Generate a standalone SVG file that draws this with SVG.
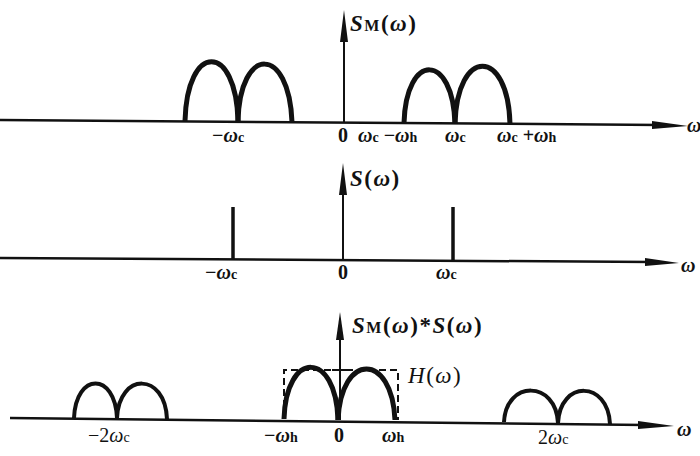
<svg xmlns="http://www.w3.org/2000/svg" width="700" height="456" viewBox="0 0 700 456">
<style>
.ax{stroke:#111;stroke-width:2.5;fill:none}
.va{stroke:#111;stroke-width:2;fill:none}
.hump{stroke:#111;stroke-width:5;fill:none;stroke-linecap:butt}
.hump2{stroke:#111;stroke-width:4;fill:none}
.imp{stroke:#111;stroke-width:3.5}
.ah{fill:#111}
.dash{stroke:#111;stroke-width:2;fill:none;stroke-dasharray:7,4}
text{font-family:"Liberation Serif","DejaVu Serif",serif;font-weight:bold;fill:#111;font-size:20px}
.it{font-style:italic}
.sm{font-size:14px;font-style:normal}
.nb{font-weight:normal}
.big{font-size:23px;letter-spacing:1.5px}
.big .sm{font-size:16px}
</style>
<rect width="700" height="456" fill="#fff"/>
<!-- Panel 1 -->
<g id="panel1">
  <g id="axes1">
    <line class="ax" x1="0" y1="120" x2="660" y2="125"/>
    <polygon class="ah" points="652,121 688,126 652,129"/>
    <line class="va" x1="344" y1="122" x2="344" y2="30"/>
    <polygon class="ah" points="340,42 344,10 348,42"/>
  </g>
  <g id="humps1">
    <path class="hump" d="M185,121 C187,42 236,42 238,121"/>
    <path class="hump" d="M238,121 C240,45 289,45 292,122"/>
    <path class="hump" d="M404,123 C406,52 453,52 455,124"/>
    <path class="hump" d="M455,124 C457,47 508,47 510,124"/>
  </g>
  <g id="labels1">
    <text x="350" y="31" class="big"><tspan class="it">S</tspan><tspan class="sm">M</tspan>(<tspan class="it">ω</tspan>)</text>
    <text x="212" y="142">−<tspan class="it">ω</tspan><tspan class="sm">c</tspan></text>
    <text x="338" y="142">0</text>
    <text x="358" y="142"><tspan class="it">ω</tspan><tspan class="sm">c</tspan> −<tspan class="it">ω</tspan><tspan class="sm">h</tspan></text>
    <text x="445" y="142"><tspan class="it">ω</tspan><tspan class="sm">c</tspan></text>
    <text x="497" y="142"><tspan class="it">ω</tspan><tspan class="sm">c</tspan> +<tspan class="it">ω</tspan><tspan class="sm">h</tspan></text>
    <text x="687" y="132" class="it">ω</text>
  </g>
</g>
<!-- Panel 2 -->
<g id="panel2">
  <g id="axes2">
    <line class="ax" x1="0" y1="258" x2="652" y2="262"/>
    <polygon class="ah" points="645,258 679,263 645,266"/>
    <line class="va" x1="343" y1="259" x2="343" y2="185"/>
    <polygon class="ah" points="339,195 343,163 347,195"/>
  </g>
  <g id="impulses">
    <line class="imp" x1="233" y1="207" x2="233" y2="259"/>
    <line class="imp" x1="453" y1="207" x2="453" y2="261"/>
  </g>
  <g id="labels2">
    <text x="350" y="186" class="big"><tspan class="it">S</tspan>(<tspan class="it">ω</tspan>)</text>
    <text x="205" y="279">−<tspan class="it">ω</tspan><tspan class="sm">c</tspan></text>
    <text x="338" y="279">0</text>
    <text x="436" y="279"><tspan class="it">ω</tspan><tspan class="sm">c</tspan></text>
    <text x="681" y="272" class="it">ω</text>
  </g>
</g>
<!-- Panel 3 -->
<g id="panel3">
  <g id="axes3">
    <line class="ax" x1="10" y1="418" x2="645" y2="425"/>
    <polygon class="ah" points="638,421 674,426 638,429"/>
    <line class="va" x1="340" y1="420" x2="340" y2="330"/>
    <polygon class="ah" points="336,340 340,312 344,340"/>
    <line class="va" x1="332" y1="370" x2="348" y2="370"/>
  </g>
  <g id="humps3">
    <path class="hump2" d="M74,418 C76,372 115,372 117,418"/>
    <path class="hump2" d="M117,418 C119,372 165,372 167,419"/>
    <path class="hump" d="M284,419 C286,350 336,350 338,420"/>
    <path class="hump" d="M338,420 C341,352 392,352 395,420"/>
    <path class="hump2" d="M504,422 C506,380 556,380 558,423"/>
    <path class="hump2" d="M558,423 C560,380 608,380 610,424"/>
  </g>
  <g id="H">
    <path class="dash" d="M284,418 L284,370 L398,370 L398,420"/>
  </g>
  <g id="labels3">
    <text x="352" y="333" class="big"><tspan class="it">S</tspan><tspan class="sm">M</tspan>(<tspan class="it">ω</tspan>)*<tspan class="it">S</tspan>(<tspan class="it">ω</tspan>)</text>
    <text x="408" y="383" class="nb big"><tspan class="it">H</tspan>(<tspan class="it">ω</tspan>)</text>
    <text x="88" y="442" class="nb">−2<tspan class="it">ω</tspan><tspan class="sm">c</tspan></text>
    <text x="264" y="442">−<tspan class="it">ω</tspan><tspan class="sm">h</tspan></text>
    <text x="334" y="442">0</text>
    <text x="382" y="442"><tspan class="it">ω</tspan><tspan class="sm">h</tspan></text>
    <text x="538" y="444" class="nb">2<tspan class="it">ω</tspan><tspan class="sm">c</tspan></text>
    <text x="677" y="436" class="it">ω</text>
  </g>
</g>
</svg>
